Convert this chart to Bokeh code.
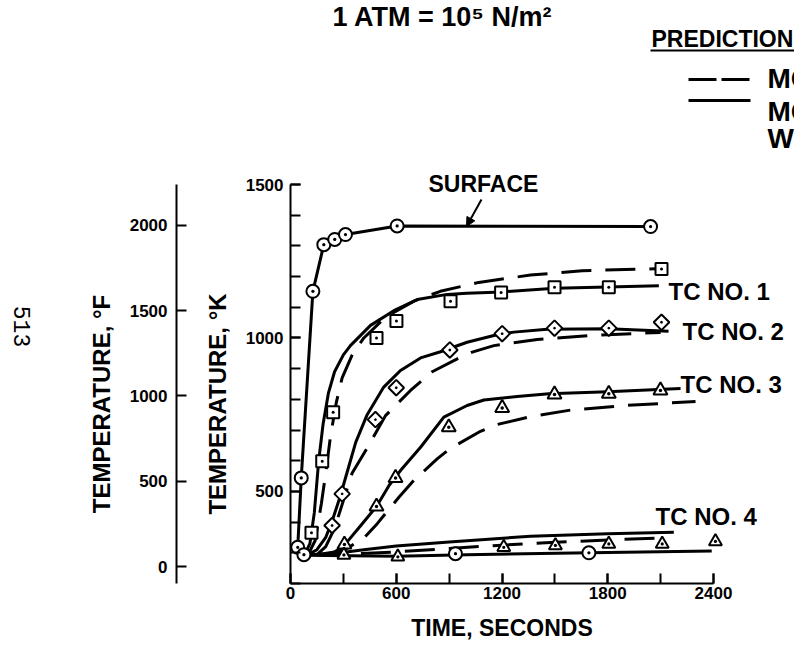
import numpy as np
from bokeh.plotting import figure
from bokeh.models import (LinearAxis, Range1d, FixedTicker, Label, Arrow,
                          NormalHead, SingleIntervalTicker)
from bokeh.embed import file_html
from bokeh.resources import INLINE

# ---------------- data (time in s, temperature in K) ----------------
surf_t = [41, 61, 127, 189, 251, 312, 605, 2043]
surf_k = [318, 544, 1152, 1304, 1321, 1337, 1365, 1363]
init_t = [76]
init_k = [294]

tc1_t = [119, 180, 242, 488, 601, 908, 1195, 1498, 1806, 2105]
tc1_k = [365, 598, 758, 1000, 1055, 1120, 1148, 1165, 1165, 1225]
tc2_t = [236, 293, 482, 600, 904, 1201, 1498, 1806, 2105]
tc2_k = [389, 492, 734, 838, 961, 1014, 1032, 1032, 1051]
tc3_t = [306, 488, 596, 898, 1201, 1498, 1806, 2099]
tc3_k = [327, 451, 544, 709, 772, 816, 818, 829]
tc4_t = [303, 609, 1210, 1503, 1806, 2109, 2411]
tc4_k = [293, 287, 318, 324, 329, 329, 337]
tc4b_t = [936, 1693]
tc4b_k = [297, 300]

# model predictions: solid = model with ..., dashed = model
s1_t = [80, 110, 135, 160, 185, 215, 250, 300, 340, 454, 586, 719, 889, 1000, 1200, 1500, 1800, 2090]
s1_k = [294, 330, 430, 600, 720, 820, 890, 945, 975, 1041, 1089, 1125, 1142, 1146, 1150, 1162, 1166, 1170]
d1_t = [100, 140, 175, 200, 227, 260, 293, 350, 416, 539, 700, 850, 1068, 1362, 1655, 1957, 2105]
d1_k = [294, 340, 460, 560, 680, 790, 870, 945, 1000, 1068, 1120, 1152, 1181, 1205, 1219, 1224, 1226]
s2_t = [100, 150, 200, 240, 280, 320, 370, 435, 529, 624, 738, 851, 1002, 1154, 1267, 1456, 1800, 2145]
s2_k = [294, 310, 350, 410, 480, 560, 660, 750, 840, 894, 935, 955, 986, 1008, 1019, 1028, 1030, 1022]
d2_t = [150, 200, 250, 300, 350, 444, 539, 681, 804, 946, 1031, 1154, 1400, 1700, 2100]
d2_k = [294, 320, 380, 470, 560, 650, 747, 829, 890, 932, 954, 975, 995, 1008, 1018]
s3_t = [150, 250, 306, 400, 488, 560, 624, 738, 870, 1002, 1097, 1286, 1466, 1800, 2213]
s3_k = [294, 303, 325, 390, 451, 520, 568, 644, 742, 780, 798, 809, 818, 825, 835]
d3_t = [200, 322, 420, 492, 615, 700, 832, 904, 1078, 1173, 1362, 1589, 1900, 2298]
d3_k = [294, 315, 350, 395, 481, 536, 606, 639, 696, 718, 744, 765, 780, 793]
s4_t = [100, 250, 416, 600, 900, 1362, 1800, 2175]
s4_k = [294, 298, 310, 322, 335, 354, 362, 367]
d4_t = [150, 350, 600, 900, 1200, 1500, 1800, 2100]
d4_k = [294, 296, 303, 314, 325, 334, 342, 348]
l4_t = [76, 600, 1000, 1700, 2390]
l4_k = [292, 289, 294, 300, 306]

x_ticks_major = 600
k_ticks_major = 500
f_ticks = [0, 500, 1000, 1500, 2000]
T_MIN, T_MAX = 0, 2400
K_MIN, K_MAX = 200, 1500

# ---------------- layout (pixels) ----------------
W, H = 794, 648
S = 423 / 2400          # px per second
KP = 399 / 1300         # px per kelvin
X0 = 290                # x pixel of t = 0
Y200 = 583              # y pixel of 200 K


def tx(px):
    return (px - X0) / S


def ky(py):
    return K_MIN + (Y200 - py) / KP


def k2f(k):
    return (k - 273.15) * 9 / 5 + 32


FONT = "Liberation Sans"
xr = Range1d(tx(0), tx(W))
yr = Range1d(ky(H), ky(0))

p = figure(width=W, height=H, x_range=xr, y_range=yr,
           output_backend="svg", toolbar_location=None,
           min_border_left=0, min_border_right=0, min_border_top=0,
           min_border_bottom=0)
p.outline_line_color = None
p.grid.visible = False
p.background_fill_color = "white"
p.border_fill_color = "white"


def style_axis(ax, label_size="24px"):
    ax.axis_line_width = 2
    ax.axis_line_color = "black"
    ax.major_tick_in = 10
    ax.major_tick_out = 0
    ax.minor_tick_in = 10
    ax.minor_tick_out = 0
    ax.major_tick_line_width = 2
    ax.minor_tick_line_width = 2
    ax.major_tick_line_color = "black"
    ax.minor_tick_line_color = "black"
    ax.major_label_text_font = FONT
    ax.major_label_text_font_style = "bold"
    ax.major_label_text_font_size = "17px"
    ax.major_label_text_color = "black"
    ax.axis_label_text_font = FONT
    ax.axis_label_text_font_style = "bold"
    ax.axis_label_text_color = "black"
    ax.axis_label_text_font_size = label_size


# time axis, drawn at 200 K
xa = p.xaxis[0]
style_axis(xa, "23px")
xa.ticker = SingleIntervalTicker(interval=x_ticks_major, num_minor_ticks=2)
xa.bounds = (T_MIN, T_MAX)
xa.fixed_location = K_MIN
xa.axis_label = "TIME, SECONDS"
xa.major_label_standoff = 3
xa.axis_label_standoff = 13

# Kelvin axis, drawn at t = 0
ya = p.yaxis[0]
style_axis(ya)
ya.ticker = SingleIntervalTicker(interval=k_ticks_major, num_minor_ticks=5)
ya.bounds = (K_MIN, K_MAX)
ya.fixed_location = 0
ya.axis_label = "TEMPERATURE, \u00b0K" + "\u00a0" * 6
ya.major_label_standoff = 7
ya.axis_label_standoff = 12

# Fahrenheit axis, same scale converted
p.extra_y_ranges = {"F": Range1d(k2f(yr.start), k2f(yr.end))}
fa = LinearAxis(y_range_name="F", ticker=FixedTicker(ticks=f_ticks),
                axis_label="TEMPERATURE, \u00b0F" + "\u00a0" * 6)
style_axis(fa)
fa.minor_tick_line_color = None
fa.bounds = (k2f(K_MIN), k2f(K_MAX))
fa.fixed_location = tx(176)
fa.major_label_standoff = 9
fa.axis_label_standoff = 12
p.add_layout(fa, "left")

# ---------------- curves ----------------
LW = 3
DASH = "30 14"
p.line(surf_t, surf_k, line_width=LW, color="black")
for (t, k) in [(s1_t, s1_k), (s2_t, s2_k), (s3_t, s3_k), (s4_t, s4_k), (l4_t, l4_k)]:
    p.line(t, k, line_width=LW, color="black", line_join="round")
for (t, k) in [(d1_t, d1_k), (d2_t, d2_k), (d3_t, d3_k), (d4_t, d4_k)]:
    p.line(t, k, line_width=LW, color="black", line_dash=DASH)

MK = dict(fill_color="white", line_color="black", line_width=2)
p.scatter(surf_t, surf_k, marker="circle_dot", size=13, **MK)
p.scatter(init_t, init_k, marker="circle_dot", size=13, **MK)
p.scatter(tc1_t, tc1_k, marker="square_dot", size=12, **MK)
p.scatter(tc2_t, tc2_k, marker="square_dot", size=11, angle=np.pi / 4, **MK)
p.scatter(tc3_t, tc3_k, marker="triangle_dot", size=14, **MK)
p.scatter(tc4_t, tc4_k, marker="triangle_dot", size=13, **MK)
p.scatter(tc4b_t, tc4b_k, marker="circle_dot", size=13, **MK)


# ---------------- annotations ----------------
def lab(px, py, text, size, font=FONT, style="bold", align="left", angle=0.0,
        baseline="middle"):
    p.add_layout(Label(x=tx(px), y=ky(py), text=text, text_font=font,
                       text_font_size=size, text_font_style=style,
                       text_align=align, text_baseline=baseline, angle=angle,
                       text_color="black"))


lab(428, 183, "SURFACE", "23px")
lab(668, 291, "TC NO. 1", "24px")
lab(682, 331, "TC NO. 2", "24px")
lab(680, 384, "TC NO. 3", "24px")
lab(655, 516, "TC NO. 4", "24px")
lab(332, 16, "1 ATM = 10\u2075 N/m\u00b2", "27px")
lab(651, 38, "PREDICTION", "23px")
lab(767, 78, "MO", "28px")
lab(767, 111, "MO", "28px")
lab(767, 138, "WI", "28px")
lab(21, 326, "513", "23px", font="Liberation Mono", style="normal",
    align="center", angle=-np.pi / 2)


def seg(x0, y0, x1, y1, dash="solid", width=3, head=None):
    p.add_layout(Arrow(x_start=tx(x0), y_start=ky(y0), x_end=tx(x1), y_end=ky(y1),
                       start=None, end=head, line_color="black", line_width=width,
                       line_dash=dash))


seg(481, 199, 466, 226, width=2,
    head=NormalHead(size=9, fill_color="black", line_color="black"))
seg(650, 50, 794, 50, width=2)
seg(688, 79, 750, 79, dash="28 5", width=3)
seg(688, 100, 750, 100, width=3)

open("out.html", "w").write(file_html(p, INLINE))
